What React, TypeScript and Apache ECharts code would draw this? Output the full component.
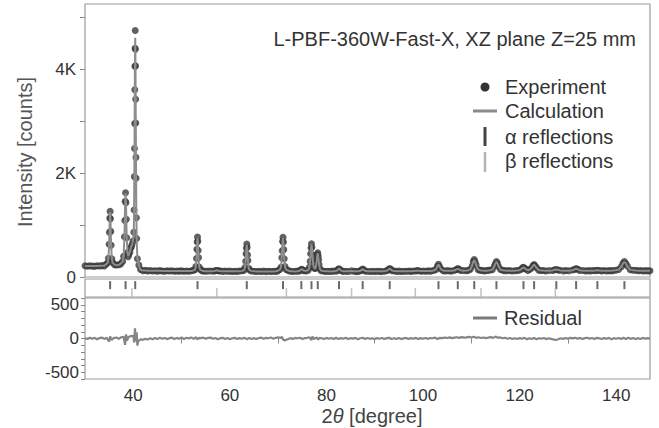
import React, { useEffect, useRef } from 'react';
import * as echarts from 'echarts';

// [2θ, observed, calculated]
const profileLowAngle: [number, number, number][] = [
  [30.0,215,212],[30.5,208,212],[31.0,218,212],[31.5,209,212],[32.0,205,213],[32.5,216,213],[33.0,211,214],[33.5,219,215],[34.0,213,218],
  [34.33,244,241],[34.68,268,272],[34.85,362,354],[34.99,630,622],[35.06,858,869],[35.13,1135,1126],[35.2,1262,1250],[35.27,1118,1126],[35.34,877,869],[35.41,610,622],[35.55,348,354],[35.73,279,272],[36.08,238,241],
  [36.5,230,228],[37.0,236,232],[37.4,252,256],[37.8,300,297],[38.0,400,407],[38.16,775,766],[38.24,1085,1097],[38.32,1455,1442],[38.4,1620,1608],[38.48,1430,1442],[38.56,1110,1097],[38.64,755,766],[38.8,470,455],[38.95,392,400],[39.1,445,430],[39.3,478,490],[39.45,560,545],[39.6,575,590],[39.75,630,615],[39.95,690,700],
  [40.1,860,840],[40.16,1290,1270],[40.22,1930,1960],[40.25,2470,2430],[40.28,2950,2990],[40.31,3600,3540],[40.34,4050,4070],[40.37,4400,4440],[40.4,4740,4600],[40.43,4380,4400],[40.46,4060,4010],[40.49,3420,3470],[40.52,2960,2920],[40.55,2300,2345],[40.58,1900,1865],[40.64,1140,1160],[40.7,740,720],[40.85,350,360],[41.15,228,220],[41.5,146,140],
  [42.0,120,126],[42.5,127,124],[43.0,118,122],[43.5,124,121],[44.0,116,120],[44.5,121,119],[45.0,113,118],[45.5,122,118],[46.0,117,117],[46.5,111,117],[47.0,120,116],[47.5,114,116],[48.0,119,115],[48.5,110,115],[49.0,117,115],[49.5,113,114],[50.0,118,114],[50.5,109,114],[51.0,116,113],[51.5,112,113],[52.0,119,113]
];

const profileMidAngle: [number, number, number][] = [
  [52.43,128,125],[52.78,139,144],[52.95,203,196],[53.09,356,365],[53.16,534,520],[53.23,672,682],[53.3,770,760],[53.37,690,682],[53.44,508,520],[53.51,373,365],[53.65,190,196],[53.83,148,144],[54.18,122,125],
  [54.5,115,113],[55.0,110,112],[55.5,117,112],
  [56.1,114,111],[56.7,112,115],[57.02,125,122],[57.3,126,128],[57.58,120,122],[57.9,118,115],[58.5,108,111],
  [59.0,114,110],[59.5,109,110],[60.0,113,110],[60.5,106,109],[61.0,112,109],[61.5,108,109],[62.0,114,109],
  [62.55,121,118],[62.93,130,134],[63.12,181,175],[63.27,302,310],[63.35,447,434],[63.42,552,563],[63.5,633,625],[63.58,570,563],[63.65,422,434],[63.73,318,310],[63.88,169,175],[64.07,137,134],[64.45,115,118],
  [65.0,111,109],[65.5,105,108],[66.0,112,108],[66.5,107,108],[67.0,113,108],[67.5,104,108],[68.0,110,108],[68.5,106,108],[69.0,112,108],[69.5,108,109],
  [69.95,118,121],[70.37,144,140],[70.58,186,192],[70.75,370,360],[70.83,503,516],[70.92,686,677],[71.0,765,755],[71.08,670,677],[71.17,527,516],[71.25,352,360],[71.42,202,195],[71.63,144,148],[72.05,127,124],
  [72.5,112,112],[73.0,106,109],[73.5,111,108],
  [74.0,113,110],[74.45,116,119],[74.69,140,137],[74.9,147,150],[75.11,134,137],[75.35,122,119],[75.8,117,120],
  [76.23,131,136],[76.45,185,178],[76.63,300,312],[76.72,448,436],[76.81,556,565],[76.9,640,630],[76.99,572,566],[77.08,428,440],[77.17,331,320],[77.35,193,200],[77.55,165,158],[77.75,168,172],[77.93,262,256],[78.02,326,335],[78.11,430,420],[78.2,468,460],[78.29,405,414],[78.38,334,326],[78.47,238,245],[78.65,160,155],[78.88,122,126],[79.33,117,114],
  [79.8,105,110],[80.3,111,109],[80.8,108,108],[81.3,113,109],
  [81.77,114,111],[82.19,118,122],[82.41,149,145],[82.6,158,162],[82.79,141,145],[83.01,126,122],[83.43,108,111],
  [84.0,112,109],[84.5,106,109],[85.2,118,116],[85.8,109,110],[86.2,104,109],
  [86.6,107,110],[87.05,122,119],[87.29,133,137],[87.5,153,150],[87.71,140,137],[87.95,116,119],[88.4,112,110],
  [89.0,106,109],[89.5,111,109]
];

const profileHighAngle: [number, number, number][] = [
  [90.0,105,109],[90.5,112,109],[91.0,108,110],[91.5,104,110],
  [92.12,110,113],[92.61,127,124],[92.87,142,146],[93.1,165,162],[93.33,150,146],[93.59,121,124],[94.08,115,113],
  [94.6,108,110],[95.1,113,110],[95.6,106,110],[96.1,111,111],[96.6,109,111],[97.1,115,111],[97.5,108,112],
  [98.0,116,113],[98.5,115,118],[98.8,125,122],[99.1,119,118],[99.6,110,113],
  [100.1,116,113],[100.6,109,114],[101.1,118,115],[101.6,113,117],
  [102.22,127,124],[102.71,146,150],[102.97,208,203],[103.2,245,241],[103.43,198,203],[103.69,155,150],[104.18,121,124],
  [104.6,116,119],[105.1,122,119],[105.6,115,119],
  [106.0,117,120],[106.6,131,128],[106.92,143,146],[107.2,161,158],[107.48,149,146],[107.8,125,128],[108.4,124,122],
  [109.0,121,124],[109.4,128,131],[109.8,150,146],[110.2,218,224],[110.4,298,292],[110.6,335,330],[110.8,287,292],[111.0,230,224],[111.4,142,146],[111.8,130,131],[112.2,127,124],
  [112.7,117,121],[113.1,124,121],
  [113.5,128,125],[113.9,133,130],[114.35,138,142],[114.77,212,206],[114.99,255,261],[115.2,297,292],[115.41,266,261],[115.63,200,206],[116.05,146,142],[116.5,131,130],[116.9,122,125],
  [117.4,119,121],[117.9,125,120],[118.4,116,120],
  [119.0,119,122],[119.45,125,124],[119.9,131,128],[120.35,148,152],[120.58,176,172],[120.8,188,184],[121.02,169,172],[121.25,155,152],[121.7,127,130],[122.05,143,140],[122.52,176,180],[122.79,220,216],[123.0,239,235],[123.21,212,216],[123.48,182,178],[123.95,132,135],[124.4,124,127],[124.9,126,123],
  [125.4,117,121],
  [126.1,124,121],[126.85,125,127],[127.25,141,138],[127.6,143,146],[127.95,135,138],[128.35,130,127],[129.1,118,121],
  [129.6,124,121],
  [130.2,119,122],[130.95,133,130],[131.35,143,146],[131.7,161,158],[132.05,149,146],[132.45,127,130],[133.2,125,122],
  [133.7,116,121],[134.2,123,120],[134.7,118,120],
  [135.2,124,121],[135.7,122,125],[136.1,131,128],[136.5,126,125],[137.0,118,121],
  [137.5,124,120],[138.0,117,120],[138.5,122,121],[138.9,119,122],
  [139.3,122,125],[139.9,131,130],[140.5,146,142],[141.1,200,206],[141.4,266,261],[141.7,296,292],[142.0,258,261],[142.3,211,206],[142.9,139,142],[143.5,131,132],[144.1,128,125],
  [144.6,119,121],[145.1,124,120],[145.6,117,120],[146.1,123,120],[146.6,118,120],[147.0,121,120]
];

const alphaReflections = [35.2, 38.4, 40.4, 53.3, 63.5, 71.0, 74.8, 76.9, 78.2, 82.6, 87.5, 93.1, 103.2, 107.2, 110.6, 115.2, 120.8, 123.0, 127.6, 131.7, 136.1, 141.7];
const betaReflections = [39.7, 57.3, 71.7, 85.2, 98.4, 112.0, 127.4];

// [2θ, obs − calc]
const residualCurve: [number, number][] = [
  [30.0,5],[30.5,-8],[31.0,12],[31.5,-4],[32.0,9],[32.5,-12],[33.0,6],[33.5,14],[34.0,-6],[34.5,10],[35.0,-45],[35.2,30],[35.5,-20],[36.0,8],[36.5,15],[37.0,-5],[37.5,18],[38.0,25],[38.3,-95],[38.5,60],[38.7,-30],[39.0,22],[39.5,35],[40.0,40],[40.2,-60],[40.35,150],[40.5,-40],[40.7,90],[40.85,-105],[41.0,-40],[41.3,-25],[41.6,-12],
  [42.0,-20],[42.5,-5],[43.0,-14],[43.5,4],[44.0,-10],[44.5,6],[45.0,-8],[45.5,10],[46.0,-4],[46.5,8],[47.0,-9],[47.5,5],[48.0,12],[48.5,-6],[49.0,9],[49.5,-3],[50.0,14],[50.5,-8],[51.0,11],[51.5,2],[52.0,15],[52.5,-6],[53.0,18],[53.3,-14],[53.6,10],[54.0,6],[54.5,12],[55.0,-5],[55.5,9],[56.0,14],[56.5,-4],[57.0,7],[57.5,-10],[58.0,5],[58.5,10],[59.0,-6],[59.5,8],
  [60.0,-12],[60.5,4],[61.0,10],[61.5,-7],[62.0,6],[62.5,-4],[63.0,12],[63.5,-10],[64.0,8],[64.5,-6],[65.0,5],[65.5,-9],[66.0,7],[66.5,12],[67.0,-5],[67.5,9],[68.0,4],[68.5,14],[69.0,-3],[69.5,10],[70.0,16],[70.5,8],[70.8,22],[71.0,-12],[71.3,-28],[71.6,-20],[72.0,-10],[72.5,5],[73.0,-6],[73.5,8],[74.0,3],[74.5,11],[75.0,-7],[75.5,6],[76.0,10],[76.5,18],[76.9,-22],[77.1,30],[77.4,-8],[78.0,14],[78.3,-16],[78.6,9],[79.0,4],[79.5,-6],
  [80.0,9],[80.5,-4],[81.0,8],[81.5,-7],[82.0,12],[82.5,-9],[83.0,6],[83.5,-3],[84.0,10],[84.5,-8],[85.0,5],[85.5,-2],[86.0,9],[86.5,-10],[87.0,4],[87.5,11],[88.0,-6],[88.5,8],[89.0,-5],[89.5,3],[90.0,-9],[90.5,6],[91.0,-3],[91.5,8],[92.0,-7],[92.5,5],[93.0,10],[93.5,-8],[94.0,4],[94.5,-5],[95.0,7],[95.5,-9],[96.0,3],[96.5,8],[97.0,-6],[97.5,5],[98.0,-4],[98.5,9],[99.0,-7],[99.5,6],
  [100.0,-3],[100.5,8],[101.0,-5],[101.5,7],[102.0,4],[102.5,12],[103.0,-6],[103.5,10],[104.0,5],[104.5,14],[105.0,8],[105.5,16],[106.0,6],[106.5,12],[107.0,18],[107.5,9],[108.0,20],[108.5,12],[109.0,16],[109.5,24],[110.0,14],[110.5,26],[111.0,10],[111.5,18],[112.0,8],[112.5,15],[113.0,6],[113.5,12],[114.0,20],[114.5,9],[115.0,28],[115.5,12],[116.0,16],[116.5,4],[117.0,10],[117.5,-3],[118.0,8],[118.5,-6],[119.0,4],[119.5,-8],
  [120.0,6],[120.5,-4],[121.0,10],[121.5,-12],[122.0,3],[122.5,-6],[123.0,8],[123.5,-10],[124.0,5],[124.5,-4],[125.0,7],[125.5,-9],[126.0,3],[126.5,-5],[127.0,-14],[127.5,-22],[128.0,-12],[128.5,4],[129.0,-6],[129.5,8],[130.0,-3],[130.5,10],[131.0,2],[131.5,12],[132.0,-4],[132.5,9],[133.0,-7],[133.5,5],[134.0,11],[134.5,-2],[135.0,8],[135.5,-6],[136.0,10],[136.5,3],[137.0,-8],[137.5,6],[138.0,-4],[138.5,9],[139.0,-10],[139.5,5],
  [140.0,-3],[140.5,8],[141.0,-6],[141.5,12],[142.0,-8],[142.5,10],[143.0,-5],[143.5,7],[144.0,-9],[144.5,4],[145.0,-6],[145.5,9],[146.0,-4],[146.5,6],[147.0,-2]
];

const xLabelValues = [40, 60, 80, 100, 120, 140];
const xTickValues = [50, 70, 90, 110, 130];
const intensityLabelValues = [0, 2000, 4000];
const intensityTickValues = [0, 1000, 2000, 3000, 4000, 5000];
const residualLabelValues = [-500, 0, 500];
const residualTickValues = [-600, -500, -400, -300, -200, -100, 0, 100, 200, 300, 400, 500, 600];

const titleText = 'L-PBF-360W-Fast-X, XZ plane Z=25 mm';
const legendLabels = ['Experiment', 'Calculation', 'α reflections', 'β reflections'];

const FONT = 'Liberation Sans, Arial, Helvetica, sans-serif';
const TEXT = '#333';
const BORDER = '#9c9c9c';

export default function App() {
  const ref = useRef<HTMLDivElement>(null);
  useEffect(() => {
    document.body.style.margin = '0';
    if (!ref.current) return;
    const chart = echarts.init(ref.current, null, { renderer: 'svg' });
    const profile = [...profileLowAngle, ...profileMidAngle, ...profileHighAngle];
    const observed = profile.map((p) => [p[0], p[1]]);
    const calculated = profile.map((p) => [p[0], p[2]]);

    const hiddenX = (gridIndex: number) => ({
      gridIndex, type: 'value', min: 30, max: 147,
      axisLine: { show: false }, axisTick: { show: false }, axisLabel: { show: false }, splitLine: { show: false },
    });
    const gridBase = { left: 85, width: 565, show: true, borderColor: BORDER, borderWidth: 1.2, backgroundColor: 'transparent' };

    const legendY = [87, 111, 137, 161];
    chart.setOption({
      animation: false,
      backgroundColor: '#fff',
      grid: [
        { ...gridBase, top: 4, height: 273 },
        { ...gridBase, top: 279, height: 18 },
        { ...gridBase, top: 298, height: 81 },
      ],
      xAxis: [
        hiddenX(0),
        hiddenX(1),
        {
          gridIndex: 2, type: 'value', min: 30, max: 147,
          axisLine: { show: false },
          axisTick: { show: true, customValues: xTickValues, length: 5, lineStyle: { color: '#888', width: 1 } },
          axisLabel: { customValues: xLabelValues, fontSize: 17, color: TEXT, margin: 8, fontFamily: FONT },
          splitLine: { show: false },
        },
      ],
      yAxis: [
        {
          gridIndex: 0, type: 'value', min: 0, max: 5250,
          axisLine: { show: false },
          axisTick: { show: true, customValues: intensityTickValues, length: 5, lineStyle: { color: '#888' } },
          axisLabel: {
            customValues: intensityLabelValues, fontSize: 17, color: TEXT, margin: 9, fontFamily: FONT,
            formatter: (v: number) => (v === 0 ? '0' : v / 1000 + 'K'),
          },
          splitLine: { show: false },
        },
        { gridIndex: 1, type: 'value', min: 0, max: 1, show: false },
        {
          gridIndex: 2, type: 'value', min: -600, max: 600,
          axisLine: { show: false },
          axisTick: { show: true, customValues: residualTickValues, length: 4, lineStyle: { color: '#888' } },
          axisLabel: { customValues: residualLabelValues, fontSize: 17, color: TEXT, margin: 6, fontFamily: FONT },
          splitLine: { show: false },
        },
      ],
      series: [
        {
          name: 'Experiment', type: 'scatter', xAxisIndex: 0, yAxisIndex: 0, data: observed,
          symbol: 'circle', symbolSize: 7, itemStyle: { color: '#3a3a3a' }, z: 2, silent: true,
        },
        {
          name: 'Calculation', type: 'line', xAxisIndex: 0, yAxisIndex: 0, data: calculated,
          showSymbol: false, lineStyle: { color: '#8d8d8d', width: 2 }, z: 3, silent: true,
        },
        {
          name: 'α reflections', type: 'scatter', xAxisIndex: 1, yAxisIndex: 1,
          data: alphaReflections.map((v) => [v, 0.66]),
          symbol: 'rect', symbolSize: [2, 8], itemStyle: { color: '#454545' }, silent: true,
        },
        {
          name: 'β reflections', type: 'scatter', xAxisIndex: 1, yAxisIndex: 1,
          data: betaReflections.map((v) => [v, 0.25]),
          symbol: 'rect', symbolSize: [1.5, 9], itemStyle: { color: '#b3b3b3' }, silent: true,
        },
        {
          name: 'Residual', type: 'line', xAxisIndex: 2, yAxisIndex: 2, data: residualCurve,
          showSymbol: false, lineStyle: { color: '#858585', width: 2.2 }, silent: true,
        },
      ],
      graphic: [
        {
          type: 'text', x: 636, y: 39,
          style: { text: titleText, align: 'right', verticalAlign: 'middle', fontSize: 20, fontFamily: FONT, fill: TEXT },
        },
        {
          type: 'text', x: 25, y: 152, rotation: Math.PI / 2,
          style: { text: 'Intensity [counts]', align: 'center', verticalAlign: 'middle', fontSize: 20, fontFamily: FONT, fill: '#555' },
        },
        {
          type: 'text', x: 372, y: 416,
          style: {
            text: '2{i|θ} [degree]', align: 'center', verticalAlign: 'middle', fontSize: 20, fontFamily: FONT, fill: '#444',
            rich: { i: { fontStyle: 'italic', fontSize: 20, fontFamily: FONT, fill: '#444' } },
          },
        },
        { type: 'circle', shape: { cx: 485, cy: legendY[0], r: 4.5 }, style: { fill: '#333' } },
        { type: 'line', shape: { x1: 473, y1: legendY[1], x2: 497, y2: legendY[1] }, style: { stroke: '#8a8a8a', lineWidth: 3 } },
        { type: 'line', shape: { x1: 485, y1: legendY[2] - 10, x2: 485, y2: legendY[2] + 9 }, style: { stroke: '#444', lineWidth: 3 } },
        { type: 'line', shape: { x1: 485, y1: legendY[3] - 9, x2: 485, y2: legendY[3] + 11 }, style: { stroke: '#b3b3b3', lineWidth: 2.5 } },
        ...legendLabels.map((t, i) => ({
          type: 'text', x: 505, y: legendY[i],
          style: { text: t, align: 'left', verticalAlign: 'middle', fontSize: 20, fontFamily: FONT, fill: TEXT },
        })),
        { type: 'line', shape: { x1: 473, y1: 318, x2: 497, y2: 318 }, style: { stroke: '#7a7a7a', lineWidth: 3 } },
        {
          type: 'text', x: 504, y: 318,
          style: { text: 'Residual', align: 'left', verticalAlign: 'middle', fontSize: 20, fontFamily: FONT, fill: TEXT },
        },
      ],
    });
    return () => chart.dispose();
  }, []);
  return <div ref={ref} style={{ position: 'absolute', left: 0, top: 0, width: 659, height: 428 }} />;
}
